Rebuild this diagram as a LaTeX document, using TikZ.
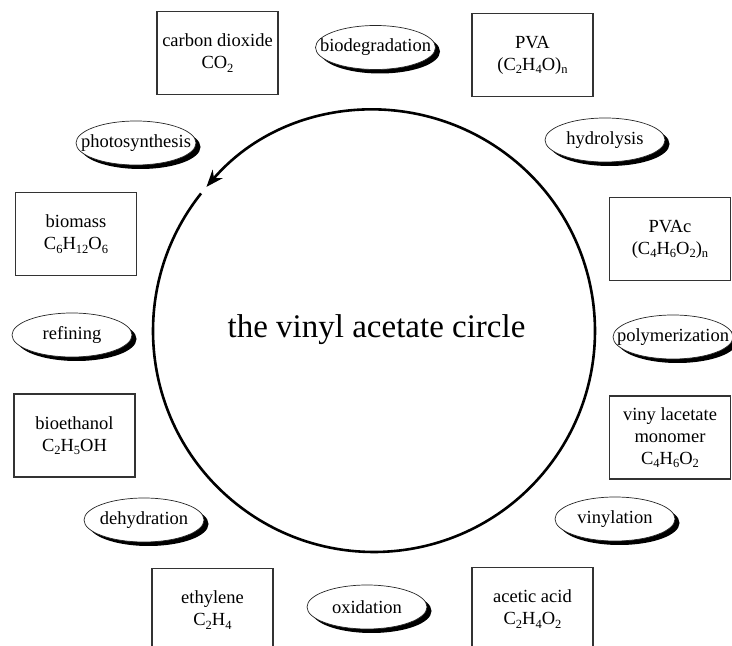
\documentclass[tikz,border=0pt]{standalone}
\usepackage{fontspec}
\setmainfont{Liberation Serif}
\usetikzlibrary{shapes.geometric,shadows,arrows.meta}
\newcommand\chs[1]{\raisebox{-0.4ex}{\fontsize{12.5}{12.5}\selectfont #1}}
\newcommand\zw[1]{\makebox[0pt]{#1}}
\begin{document}
\begin{tikzpicture}[x=1pt,y=1pt,
  matbox/.style={draw=black!80, line width=1.1pt, minimum width=121pt, minimum height=83pt,
    align=center, inner sep=0pt, font=\fontsize{18.5}{22}\selectfont},
  proc/.style={ellipse, draw=black!85, line width=0.7pt, fill=white, minimum width=120pt,
    minimum height=44pt, inner sep=0pt, font=\fontsize{18.5}{22}\selectfont,
    drop shadow={shadow xshift=4.5pt, shadow yshift=-4pt, opacity=1, fill=black}},
  ttl/.style={font=\fontsize{33}{36}\selectfont},
  cyc/.style={line width=2.6pt, -{Stealth[length=17pt,width=13pt]}}]
\useasboundingbox (0,0) rectangle (732,646);

% cycle circle with arrow
\coordinate (cc) at (374,315);
\draw[cyc] ([shift={(141.5:221)}]cc) arc[start angle=141.5, end angle=499.3, radius=221];
\node[ttl] (title) at (376.5,316) {the vinyl acetate circle};

% materials
\node[matbox] (co2) at (217.5,593) {carbon dioxide\\CO\chs{2}};
\node[matbox] (pva) at (532.5,591) {PVA\\(C\chs{2}H\chs{4}O)\chs{n}};
\node[matbox] (biomass) at (76,412) {biomass\\C\chs{6}H\chs{12}O\chs{6}};
\node[matbox] (pvac) at (670,407) {PVAc\\(C\chs{4}H\chs{6}O\chs{2})\chs{n}};
\node[matbox] (bioeth) at (74.5,210.5) {bioethanol\\C\chs{2}H\chs{5}OH};
\node[matbox] (vam) at (670,208.5) {viny lacetate\\monomer\\C\chs{4}H\chs{6}O\chs{2}};
\node[matbox] (ethyl) at (212.5,36) {ethylene\\C\chs{2}H\chs{4}};
\node[matbox] (acetic) at (532.5,37) {acetic acid\\C\chs{2}H\chs{4}O\chs{2}};

% processes
\node[proc] (biodeg) at (375.5,598.5) {\zw{biodegradation}};
\node[proc] (photo) at (136,503) {\zw{photosynthesis}};
\node[proc] (hydro) at (605,506) {\zw{hydrolysis}};
\node[proc] (refin) at (72,311) {\zw{refining}};
\node[proc] (polym) at (673,309) {\zw{polymerization}};
\node[proc] (dehyd) at (144,126) {\zw{dehydration}};
\node[proc] (vinyl) at (615,127) {\zw{vinylation}};
\node[proc] (oxid) at (367,39) {\zw{oxidation}};
\end{tikzpicture}
\end{document}
